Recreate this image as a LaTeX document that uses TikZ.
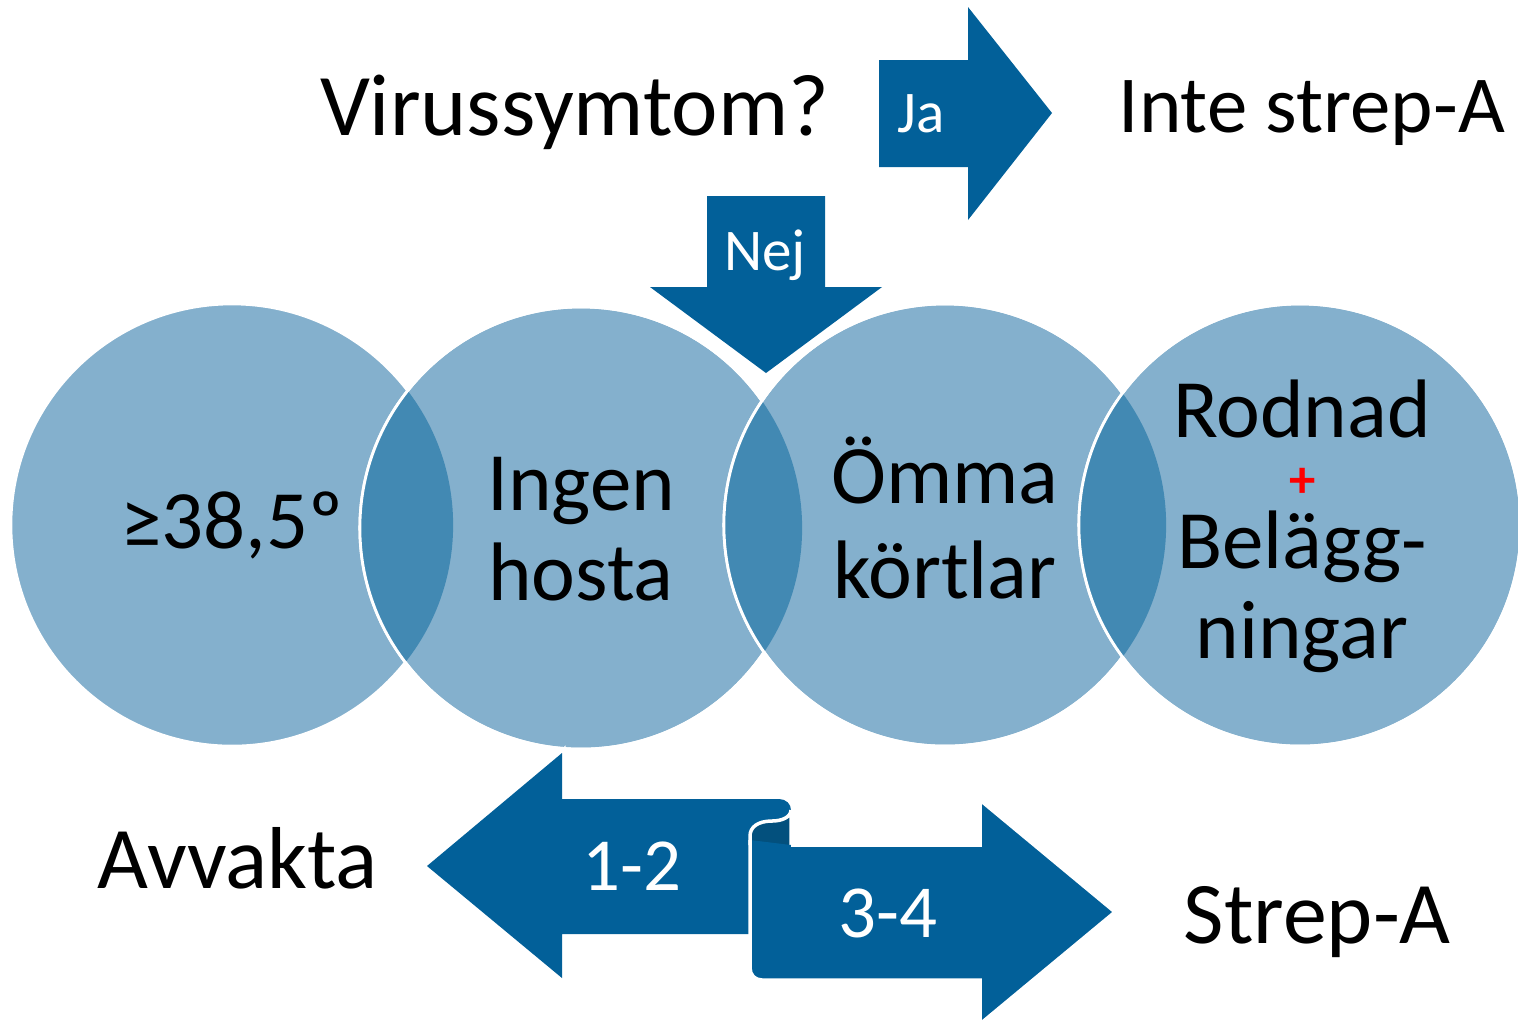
\documentclass[tikz,border=0pt]{standalone}
\usepackage{fontspec}
\setmainfont{Carlito}
\usetikzlibrary{positioning}

\definecolor{arrowblue}{RGB}{2,96,153}
\definecolor{circblue}{RGB}{132,176,205}
\definecolor{lensblue}{RGB}{66,137,179}
\definecolor{curlblue}{RGB}{3,80,125}

\begin{document}
\begin{tikzpicture}[
        x=0.01cm, y=-0.01cm,
        circ/.style={
            circle,
            fill=circblue,
            draw=white,
            line width=0.8pt,
            minimum size=4.42cm,
            inner sep=0pt
        },
        bigarrow/.style={
            fill=arrowblue,
            preaction={draw=white, line width=2pt}
        },
        lens/.style={
            fill=lensblue
        },
        rim/.style={
            draw=white,
            line width=0.8pt
        },
        label/.style={
            font=\fontsize{23.6}{26.5}\selectfont,
            inner sep=0pt,
            anchor=base
        },
        toplabel/.style={
            font=\fontsize{25}{28}\selectfont,
            inner sep=0pt,
            anchor=base
        },
        numlabel/.style={
            font=\fontsize{21.3}{24}\selectfont,
            text=white,
            inner sep=0pt,
            anchor=base
        },
        yesno/.style={
            font=\fontsize{16.8}{20}\selectfont,
            text=white,
            inner sep=0pt,
            anchor=base
        }
    ]

    \useasboundingbox (0,0) rectangle (1518,1023);

    % Circles (left to right) with darker overlaps
    \node[circ] (feber) at (232,525) {};
    \node[circ] (hosta) at (581,528) {};
    \begin{scope}
        \clip (feber.center) circle[radius=2.21cm];
        \fill[lens] (hosta.center) circle[radius=2.21cm];
    \end{scope}
    \draw[rim] (hosta.center) circle[radius=2.21cm];

    \node[circ] (kortlar) at (945,525) {};
    \begin{scope}
        \clip (hosta.center) circle[radius=2.21cm];
        \fill[lens] (kortlar.center) circle[radius=2.21cm];
    \end{scope}
    \draw[rim] (kortlar.center) circle[radius=2.21cm];

    \node[circ] (rodnad) at (1300,525) {};
    \begin{scope}
        \clip (kortlar.center) circle[radius=2.21cm];
        \fill[lens] (rodnad.center) circle[radius=2.21cm];
    \end{scope}
    \draw[rim] (rodnad.center) circle[radius=2.21cm];

    % Texts in the circles
    \node[label] (feberlbl) at (232,548) {≥38,5º};
    \node[label] (ingenlbl) at (581,510) {Ingen};
    \node[label] (hostalbl) at (581,600) {hosta};
    \node[label] (ommalbl) at (945,503) {Ömma};
    \node[label] (kortlbl) at (945,598) {körtlar};
    \node[label] (rodnadlbl) at (1302,437) {Rodnad};
    \node[text=red, font=\fontsize{15}{15}\selectfont\bfseries] (plus) at (1303,483) {+};
    \node[label] (belagglbl) at (1302,568) {Belägg-};
    \node[label] (ningarlbl) at (1302,658) {ningar};

    % Question and the yes / no arrows
    \node[toplabel, anchor=base east] (virus) at (830,135) {Virussymtom?};
    \node[toplabel, anchor=base west, font=\fontsize{23}{26}\selectfont] (inte) at (1118,132) {Inte strep-A};

    \fill[arrowblue] (879,60) -- (968,60) -- (968,7) -- (1052,113)
        -- (968,220) -- (968,167) -- (879,167) -- cycle;
    \node[yesno] (ja) at (921,132) {Ja};

    \fill[bigarrow, preaction={draw=white, line width=3pt}] (707,196) -- (825,196)
        -- (825,287) -- (882,287) -- (766,373) -- (650,287) -- (707,287) -- cycle;
    \node[yesno] (nej) at (765,270) {Nej};

    % Score arrows at the bottom
    \fill[bigarrow] (427,866) -- (562,753) -- (562,799) -- (779,799)
        .. controls (786,799) and (791,804) .. (791,810)
        .. controls (791,817) and (782,821) .. (772,821)
        .. controls (758,821) and (750,827) .. (750,836)
        -- (750,934) -- (562,934) -- (562,978) -- cycle;
    \filldraw[fill=curlblue, draw=white, line width=1pt] (791,845) -- (791,810)
        .. controls (791,817) and (782,821) .. (772,821)
        .. controls (758,821) and (750,827) .. (750,836) -- (750,845);
    \filldraw[fill=arrowblue, draw=white, line width=1pt] (791,845) -- (980,845)
        -- (980,800) -- (1115,912) -- (980,1024) -- (980,980) -- (762,980)
        .. controls (755,980) and (750,975) .. (750,968) -- (750,840);

    \node[numlabel] (low) at (632,890) {1-2};
    \node[numlabel] (high) at (888,937) {3-4};

    \node[toplabel, anchor=base west] (avvakta) at (97,888) {Avvakta};
    \node[toplabel, anchor=base west] (strep) at (1183,943) {Strep-A};

\end{tikzpicture}
\end{document}
